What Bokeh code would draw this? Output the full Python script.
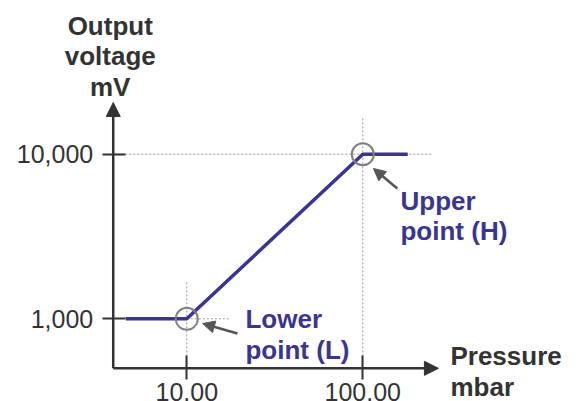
from bokeh.plotting import figure
from bokeh.models import FixedTicker, Arrow, NormalHead, Range1d, ColumnDataSource
from bokeh.core.properties import value
from bokeh.embed import file_html
from bokeh.resources import INLINE

# ---- data ----
pressure = [4.5, 10, 100, 180]          # mbar
voltage = [1000, 1000, 10000, 10000]    # mV
point_x = [10, 100]
point_y = [1000, 10000]
point_labels = ["Lower\npoint (L)", "Upper\npoint (H)"]
x_ticks = [10, 100]
x_tick_labels = ["10.00", "100.00"]
y_ticks = [1000, 10000]
y_tick_labels = ["1,000", "10,000"]
x_title = "Pressure\nmbar"
y_title = "Output\nvoltage\nmV"

# axis origin / extents (data space)
x_origin = 3.82
y_origin = 500
x_arrow_end = 269
y_arrow_end = 20600
guide_top = [1685, 16900]
guide_right = [17.5, 249]
guide_left = [10, x_origin]
pointer_start = [(19.4, 814), (157, 6190)]
pointer_end = [(12.3, 936), (115, 8185)]

FONT = value("Liberation Sans")
DARK = "#333333"
BLUE = "#3a3590"
GREY = "#808080"

p = figure(width=580, height=401, x_axis_type="log", y_axis_type="log",
           x_range=Range1d(0.874, 1726), y_range=Range1d(314.5, 85860),
           output_backend="svg", toolbar_location=None, min_border=0,
           outline_line_color=None, background_fill_color="white",
           border_fill_color="white")
p.grid.visible = False

for ax in (p.xaxis[0], p.yaxis[0]):
    ax.axis_line_color = None
    ax.major_tick_line_color = DARK
    ax.major_tick_line_width = 2
    ax.minor_tick_line_color = None
    ax.major_label_text_font = "Liberation Sans"
    ax.major_label_text_font_size = "25px"
    ax.major_label_text_color = DARK

p.xaxis.fixed_location = y_origin
p.yaxis.fixed_location = x_origin
p.xaxis.ticker = FixedTicker(ticks=x_ticks)
p.yaxis.ticker = FixedTicker(ticks=y_ticks)
p.xaxis.major_label_overrides = dict(zip(x_ticks, x_tick_labels))
p.yaxis.major_label_overrides = dict(zip(y_ticks, y_tick_labels))
p.xaxis.major_tick_in = 13
p.xaxis.major_tick_out = 11
p.yaxis.major_tick_in = 12
p.yaxis.major_tick_out = 11
p.xaxis.major_label_standoff = 4
p.yaxis.major_label_standoff = 9

# dotted guide lines
p.segment(x0=point_x, y0=[y_origin] * 2, x1=point_x, y1=guide_top,
          line_color="#999999", line_width=1, line_dash="2 2")
p.segment(x0=guide_left, y0=point_y, x1=guide_right, y1=point_y,
          line_color="#999999", line_width=1, line_dash="2 2")

# characteristic line
p.line(pressure, voltage, line_color=BLUE, line_width=3.5)

# circles at calibration points
p.scatter(point_x, point_y, marker="circle", size=22, fill_color=None,
          line_color=GREY, line_width=2)

# axes arrows
p.add_layout(Arrow(end=NormalHead(size=14, fill_color=DARK, line_color=DARK),
                   x_start=x_origin, y_start=y_origin, x_end=x_arrow_end, y_end=y_origin,
                   line_color=DARK, line_width=2.5))
p.add_layout(Arrow(end=NormalHead(size=14, fill_color=DARK, line_color=DARK),
                   x_start=x_origin, y_start=y_origin, x_end=x_origin, y_end=y_arrow_end,
                   line_color=DARK, line_width=2.5))

# pointer arrows
for (xs, ys), (xe, ye) in zip(pointer_start, pointer_end):
    p.add_layout(Arrow(end=NormalHead(size=12, fill_color="#555555", line_color="#555555"),
                       x_start=xs, y_start=ys, x_end=xe, y_end=ye,
                       line_color="#555555", line_width=2.5))

# point labels
src = ColumnDataSource(dict(x=point_x, y=point_y, t=point_labels,
                            xo=[58.7, 37.7], yo=[-15, 31.3]))
p.text(x="x", y="y", text="t", x_offset="xo", y_offset="yo", source=src,
       text_font=FONT, text_font_style="bold", text_font_size="26px",
       text_color=BLUE, text_align="left", text_baseline="top",
       text_line_height=1.03)

# axis titles
p.text(x=[x_origin], y=[y_arrow_end], text=[y_title], x_offset=-3, y_offset=-92,
       text_font=FONT, text_font_style="bold", text_font_size="26px",
       text_color=DARK, text_align="center", text_baseline="top",
       text_line_height=1.03)
p.text(x=[x_arrow_end], y=[y_origin], text=[x_title], x_offset=12, y_offset=-27,
       text_font=FONT, text_font_style="bold", text_font_size="26px",
       text_color=DARK, text_align="left", text_baseline="top",
       text_line_height=1.03)

open("out.html", "w").write(file_html(p, INLINE))
